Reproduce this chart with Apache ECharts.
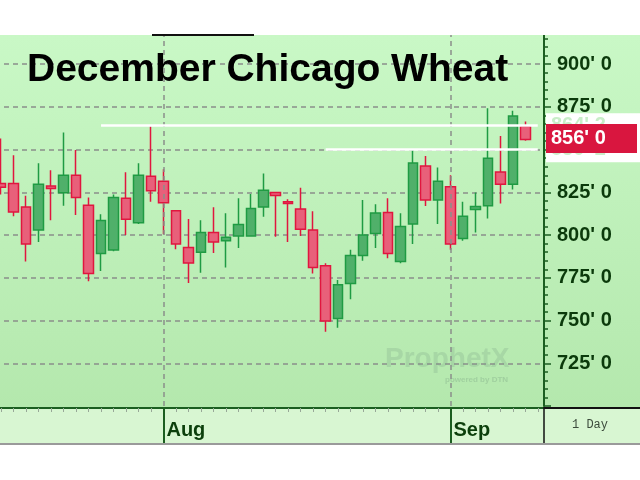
<!DOCTYPE html>
<html><head><meta charset="utf-8">
<script src="https://cdn.jsdelivr.net/npm/echarts@6/dist/echarts.min.js"></script>
<style>html,body{margin:0;padding:0;background:#fff;overflow:hidden}
#wrap{position:relative;width:640px;height:480px;overflow:hidden}
#c{position:absolute;left:-5px;top:0;width:645px;height:480px}</style>
</head><body><div id="wrap"><div id="c"></div></div>
<script>
// ---- data (December Chicago Wheat, daily, cents/bu) ----
const categories = [
 '2022-07-13','2022-07-14','2022-07-15','2022-07-18','2022-07-19','2022-07-20','2022-07-21','2022-07-22',
 '2022-07-25','2022-07-26','2022-07-27','2022-07-28','2022-07-29',
 '2022-08-01','2022-08-02','2022-08-03','2022-08-04','2022-08-05','2022-08-08','2022-08-09','2022-08-10',
 '2022-08-11','2022-08-12','2022-08-15','2022-08-16','2022-08-17','2022-08-18','2022-08-19','2022-08-22',
 '2022-08-23','2022-08-24','2022-08-25','2022-08-26','2022-08-29','2022-08-30','2022-08-31',
 '2022-09-01','2022-09-02','2022-09-06','2022-09-07','2022-09-08','2022-09-09','2022-09-12'
];
const padCategory = '2022-09-13';
const opens  = [830.25,830.25,816.5,803.0,828.75,824.75,835.0,817.5,789.25,791.25,821.5,807.25,834.5,
                831.5,814.25,792.75,790.0,801.5,796.75,799.5,799.5,816.5,825.0,819.5,815.25,803.0,782.0,751.25,771.75,
                788.0,801.0,813.25,784.5,806.5,840.5,820.5,828.25,798.0,815.0,817.25,837.0,829.75,863.75];
const closes = [828.0,813.5,794.75,829.75,827.25,835.0,822.0,777.5,808.5,822.0,809.25,835.0,826.0,
                819.0,794.75,783.75,801.5,796.0,798.75,806.25,815.5,826.25,823.25,818.5,803.5,781.0,749.75,771.0,788.0,
                800.0,813.0,789.25,805.0,842.25,820.5,831.5,794.75,811.0,816.75,845.0,829.75,869.75,856.0];
const lows   = [823.75,811.0,784.5,796.0,808.75,817.25,811.75,773.0,779.0,790.5,800.0,806.5,819.5,
                800.5,791.75,772.0,778.0,789.5,781.0,792.5,799.0,810.75,799.0,796.0,799.5,777.5,743.5,745.75,762.5,
                785.0,792.5,786.5,783.5,794.75,817.0,806.5,791.5,796.75,801.5,809.75,818.5,826.75,855.25];
const highs  = [856.5,846.75,823.0,842.0,838.0,860.0,849.75,822.0,812.25,823.75,836.75,842.0,863.75,
                838.5,814.5,809.5,808.75,816.25,812.75,821.5,824.0,836.0,825.0,821.0,827.75,814.0,783.5,773.75,791.5,
                820.5,818.0,821.5,812.75,849.75,846.25,839.5,835.0,819.5,825.0,874.25,858.0,872.75,866.5];
const refLevels = [864.25, 850.25];
const refStarts = ['2022-07-25', '2022-08-18'];
const yMin = 700, yMax = 925, yStep = 25;
const monthNames = ['Jan','Feb','Mar','Apr','May','Jun','Jul','Aug','Sep','Oct','Nov','Dec'];
const titleText = 'December Chicago Wheat';
const periodText = '1 Day';

// ---- helpers ----
const OFF = 5; // chart canvas is shifted 5px left on the page
function fmtPrice(v){ const w = Math.floor(v + 1e-9); const e = Math.round((v - w) * 8); return w + "' " + e; }
const axisCategories = categories.concat([padCategory]);
function monthLabel(i){
  if (i <= 0 || i >= categories.length) return '';
  const m = categories[i].slice(5,7);
  return m !== categories[i-1].slice(5,7) ? monthNames[+m - 1] : '';
}
const monthStarts = categories.filter((d,i) => monthLabel(i) !== '');
const candles = categories.map((d,i) => [opens[i], closes[i], lows[i], highs[i]]);
const lastPrice = closes[closes.length - 1];

const DG = '#1b5e20';
const GRID = '#8a8f8a';
const chart = echarts.init(document.getElementById('c'), null, {renderer:'canvas'});
chart.setOption({
  animation: false,
  title: { text: titleText, left: 22 + OFF, top: 46,
    textStyle: { fontSize: 39, fontWeight: 'bold', color: '#000', fontFamily: 'Liberation Sans' } },
  grid: { left: 0, right: 96, top: 21.5, bottom: 74, containLabel: false },
  xAxis: [{
    type: 'category', data: axisCategories, boundaryGap: true, position: 'bottom', offset: 2,
    axisLine: { show: true, lineStyle: { color: DG, width: 2 } },
    axisTick: { show: true, interval: 0, alignWithLabel: true, length: 4, lineStyle: { color: '#98a898', width: 1 } },
    axisLabel: { show: true, interval: (i) => monthLabel(i) !== '', formatter: (v, i) => monthLabel(i),
      align: 'left', padding: [0,0,0,3], margin: 12, color: '#0b3f0b', fontSize: 20, fontWeight: 'bold',
      fontFamily: 'Liberation Sans' },
    splitLine: { show: false }
  }, {
    type: 'category', data: axisCategories, boundaryGap: true, position: 'bottom', offset: 2,
    axisLine: { show: false },
    axisTick: { show: true, interval: (i) => monthLabel(i) !== '', alignWithLabel: true, length: 35,
      lineStyle: { color: DG, width: 2 } },
    axisLabel: { show: false }, splitLine: { show: false }
  }],
  yAxis: {
    type: 'value', position: 'right', min: yMin, max: yMax, interval: yStep,
    axisLine: { show: true, lineStyle: { color: DG, width: 2 } },
    axisTick: { show: true, length: 7, lineStyle: { color: DG, width: 1.5 } },
    minorTick: { show: true, splitNumber: 5, length: 4, lineStyle: { color: DG, width: 1.5 } },
    axisLabel: { margin: 13, formatter: fmtPrice, color: '#0b3a0b', fontSize: 20, fontWeight: 'bold',
      fontFamily: 'Liberation Sans', showMinLabel: false, showMaxLabel: false },
    splitLine: { show: true, showMinLine: false, showMaxLine: false, lineStyle: { color: GRID, type: [5,4], width: 1.5 } }
  },
  series: [{
    type: 'candlestick', data: candles, barWidth: 10, xAxisIndex: 0,
    itemStyle: { color: '#50b06a', color0: '#e8607a', borderColor: '#1f9b43', borderColor0: '#e0163f', borderWidth: 1.5 },
    markLine: {
      symbol: 'none', silent: true, animation: false, label: { show: false },
      data: monthStarts.map(d => ({ xAxis: d, lineStyle: { color: GRID, type: [5,4], width: 1.5 } }))
        .concat(refLevels.map((v,k) => [
          { coord: [refStarts[k], v], lineStyle: { color: '#ffffff', type: 'solid', width: 2.5 } },
          { coord: [padCategory, v] }
        ]))
    }
  }]
});

const yPix = v => chart.convertToPixel({ yAxisIndex: 0 }, v);
const yL = yPix(lastPrice), yR0 = yPix(refLevels[0]), yR1 = yPix(refLevels[1]);
const bgGrad = new echarts.graphic.LinearGradient(0,0,0,1,[{offset:0,color:'#c9f8c6'},{offset:1,color:'#b4e8ad'}]);
const lblFont = 'bold 20px "Liberation Sans"';
const W = 645;
chart.setOption({
  graphic: [
    { type:'rect', silent:true, z:-100, shape:{x:0,y:35,width:W,height:373}, style:{fill:bgGrad} },
    { type:'rect', silent:true, z:-100, shape:{x:0,y:408,width:W,height:35}, style:{fill:'#d8f6d2'} },
    { type:'rect', silent:true, z:-100, shape:{x:0,y:443,width:W,height:2}, style:{fill:'#9a9a9a'} },
    { type:'rect', silent:true, z:100, shape:{x:0,y:0,width:W,height:35}, style:{fill:'#ffffff'} },
    { type:'rect', silent:true, z:101, shape:{x:152+OFF,y:34,width:102,height:2}, style:{fill:'#111'} },
    { type:'line', silent:true, z:10, shape:{x1:544+OFF,y1:407,x2:544+OFF,y2:443}, style:{stroke:'#111',lineWidth:1.5} },
    { type:'line', silent:true, z:10, shape:{x1:544+OFF,y1:408,x2:W,y2:408}, style:{stroke:'#111',lineWidth:2} },
    { type:'text', silent:true, z:10, x:590+OFF, y:425, style:{text:periodText, fill:'#3b4a3b', font:'12px "Liberation Mono"', align:'center', verticalAlign:'middle'} },
    { type:'text', silent:true, z:1, x:385+OFF, y:359, style:{text:'ProphetX', fill:'rgba(120,160,130,0.25)', font:'bold 28px "Liberation Sans"', verticalAlign:'middle'} },
    { type:'text', silent:true, z:1, x:445+OFF, y:380, style:{text:'powered by DTN', fill:'rgba(120,160,130,0.35)', font:'bold 8px "Liberation Sans"', verticalAlign:'middle'} },
    { type:'rect', silent:true, z:20, shape:{x:546+OFF,y:yR0-12,width:94,height:(yR1-yR0)+25}, style:{fill:'#ffffff'} },
    { type:'text', silent:true, z:21, x:551+OFF, y:yR0, style:{text:fmtPrice(refLevels[0]), fill:'#c8eec8', font:lblFont, verticalAlign:'middle'} },
    { type:'text', silent:true, z:21, x:551+OFF, y:yR1, style:{text:fmtPrice(refLevels[1]), fill:'#c8eec8', font:lblFont, verticalAlign:'middle'} },
    { type:'rect', silent:true, z:22, shape:{x:546+OFF,y:yL-15.5,width:91,height:29}, style:{fill:'#d9163f'} },
    { type:'text', silent:true, z:23, x:551+OFF, y:yL-1, style:{text:fmtPrice(lastPrice), fill:'#ffffff', font:lblFont, verticalAlign:'middle'} }
  ]
});
</script></body></html>
